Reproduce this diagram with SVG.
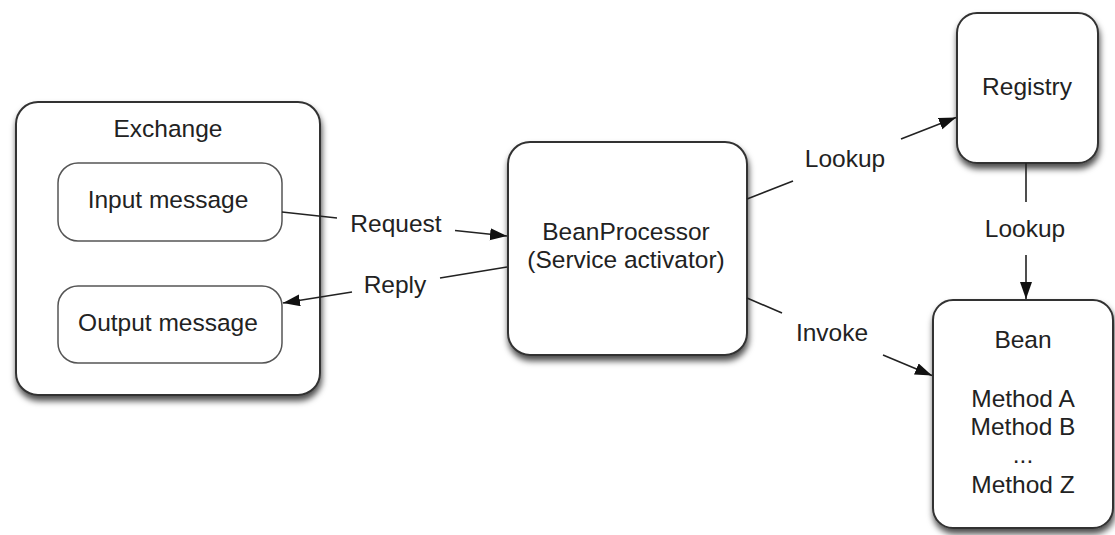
<svg xmlns="http://www.w3.org/2000/svg" width="1115" height="535" viewBox="0 0 1115 535">
  <style>
    .box { fill: #ffffff; stroke: #333333; stroke-width: 2; }
    .inner { fill: #ffffff; stroke: #555555; stroke-width: 1.5; }
    .lbl { font-family: "Liberation Sans", Arial, sans-serif; font-size: 24.5px; fill: #222222; text-anchor: middle; }
    .conn { stroke: #222222; stroke-width: 1.6; fill: none; }
  </style>
  <defs>
    <filter id="shadow" x="-10%" y="-10%" width="125%" height="125%">
      <feDropShadow dx="1" dy="5" stdDeviation="3" flood-color="#000000" flood-opacity="0.7"/>
    </filter>
    <marker id="arrow" markerUnits="userSpaceOnUse" markerWidth="19" markerHeight="13" refX="17" refY="6" orient="auto">
      <path d="M0,0 L17,6 L0,12 z" fill="#111111"/>
    </marker>
  </defs>
  <rect width="1115" height="535" fill="#ffffff"/>

  <g id="exchange">
    <rect class="box" x="16" y="102" width="304" height="293" rx="22" ry="22" filter="url(#shadow)"/>
    <text class="lbl" x="168" y="137">Exchange</text>
  </g>
  <g id="input-message">
    <rect class="inner" x="58" y="163" width="224" height="78" rx="20" ry="20"/>
    <text class="lbl" x="168" y="208">Input message</text>
  </g>
  <g id="output-message">
    <rect class="inner" x="58" y="286" width="224" height="77" rx="20" ry="20"/>
    <text class="lbl" x="168" y="331">Output message</text>
  </g>
  <g id="bean-processor">
    <rect class="box" x="508" y="142" width="239" height="213" rx="22" ry="22" filter="url(#shadow)"/>
    <text class="lbl" x="626" y="240">BeanProcessor</text>
    <text class="lbl" x="626" y="268">(Service activator)</text>
  </g>
  <g id="registry">
    <rect class="box" x="957" y="13" width="141" height="150" rx="20" ry="20" filter="url(#shadow)"/>
    <text class="lbl" x="1027" y="95">Registry</text>
  </g>
  <g id="bean">
    <rect class="box" x="933" y="300" width="180" height="228" rx="20" ry="20" filter="url(#shadow)"/>
    <text class="lbl" x="1023" y="348">Bean</text>
    <text class="lbl" x="1023" y="407">Method A</text>
    <text class="lbl" x="1023" y="435">Method B</text>
    <text class="lbl" x="1023" y="463">...</text>
    <text class="lbl" x="1023" y="493">Method Z</text>
  </g>

  <g id="connectors">
    <line class="conn" x1="282" y1="212" x2="337" y2="218"/>
    <line class="conn" x1="455" y1="230.5" x2="507" y2="236" marker-end="url(#arrow)"/>
    <text class="lbl" x="396" y="232">Request</text>

    <line class="conn" x1="507" y1="267" x2="440" y2="278"/>
    <line class="conn" x1="352" y1="292" x2="283" y2="303" marker-end="url(#arrow)"/>
    <text class="lbl" x="395" y="293">Reply</text>

    <line class="conn" x1="747" y1="199" x2="793" y2="181"/>
    <line class="conn" x1="901" y1="139" x2="956" y2="117.5" marker-end="url(#arrow)"/>
    <text class="lbl" x="845" y="167">Lookup</text>

    <line class="conn" x1="1026" y1="163" x2="1026" y2="202"/>
    <line class="conn" x1="1026" y1="255" x2="1026" y2="299" marker-end="url(#arrow)"/>
    <text class="lbl" x="1025" y="237">Lookup</text>

    <line class="conn" x1="747" y1="298" x2="782" y2="313"/>
    <line class="conn" x1="883" y1="355" x2="932" y2="375.5" marker-end="url(#arrow)"/>
    <text class="lbl" x="832" y="341">Invoke</text>
  </g>
</svg>
